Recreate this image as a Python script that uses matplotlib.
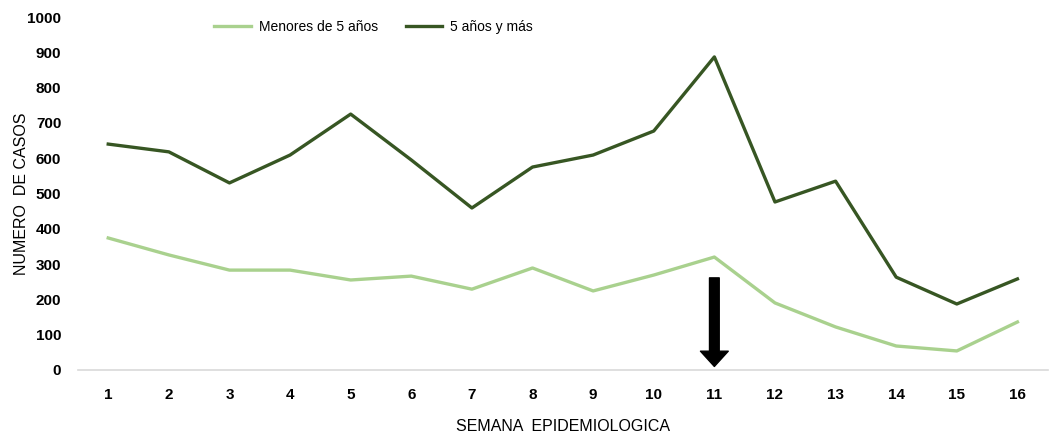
import numpy as np
import matplotlib.pyplot as plt

# datos
semanas = list(range(1, 17))
menores_5 = [374, 326, 283, 283, 255, 266, 229, 289, 224, 269, 320, 190, 122, 68, 54, 136]
mayores_5 = [640, 618, 530, 609, 725, 595, 459, 575, 609, 677, 887, 476, 535, 263, 187, 258]
flecha_semana = 11
flecha_desde = 261
flecha_hasta = 10

plt.rcParams['font.family'] = ['Liberation Sans', 'DejaVu Sans']

fig = plt.figure(figsize=(10.53, 4.33), dpi=100)
ax = fig.add_axes([0.074, 0.1455, 0.921, 0.8152])

ax.plot(semanas, menores_5, color='#a9d18e', lw=2.4, label='Menores de 5 años')
ax.plot(semanas, mayores_5, color='#375623', lw=2.4, label='5 años y más')

ax.annotate('', xy=(flecha_semana, flecha_hasta), xytext=(flecha_semana, flecha_desde),
            arrowprops=dict(facecolor='black', edgecolor='black', width=7, headwidth=20,
                            headlength=11, shrink=0))

ax.set_xlim(0.5, 16.5)
ax.set_ylim(0, 1000)
ax.set_xticks(semanas)
ax.set_yticks(np.arange(0, 1001, 100))
ax.tick_params(length=0, labelsize=11, pad=13)
ax.tick_params(axis='y', pad=12)
for t in ax.get_xticklabels() + ax.get_yticklabels():
    t.set_fontweight('bold')

for s in ['top', 'right', 'left']:
    ax.spines[s].set_visible(False)
ax.spines['bottom'].set_color('#d9d9d9')
ax.spines['bottom'].set_linewidth(1.2)

ax.set_xlabel('SEMANA  EPIDEMIOLOGICA', fontsize=11.5, va='center')
ax.xaxis.set_label_coords(0.5, -0.16)
ax.set_ylabel('NUMERO  DE CASOS', fontsize=11.5, va='center')
ax.yaxis.set_label_coords(-0.058, 0.5)

ax.legend(loc='center', bbox_to_anchor=(0.305, 0.972), ncol=2, frameon=False,
          fontsize=10, handlelength=2.6, columnspacing=2.0, handletextpad=0.6)

fig.savefig('out.png', dpi=100)
